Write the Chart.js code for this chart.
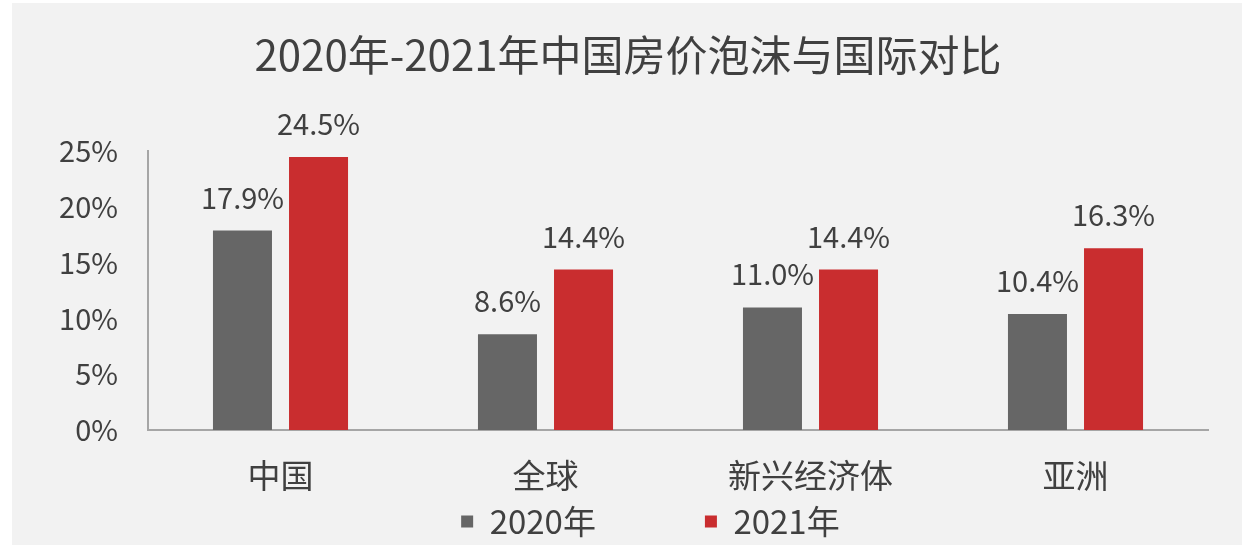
<!DOCTYPE html>
<html>
<head>
<meta charset="utf-8">
<script src="https://cdn.jsdelivr.net/npm/chart.js@4.4.1/dist/chart.umd.min.js"></script>
<style>
  html, body { margin: 0; padding: 0; background: #ffffff; }
  #wrap { position: absolute; left: 12px; top: 3px; width: 1230px; height: 542px; background: #f2f2f2; }
  #box { position: absolute; left: 0; top: 0; width: 1242px; height: 550px; }
</style>
</head>
<body>
<div id="wrap"></div>
<div id="box"><canvas id="grafico"></canvas></div>
<script>
// dados
const titulo = '2020年-2021年中国房价泡沫与国际对比';
const categorias = ['中国', '全球', '新兴经济体', '亚洲'];
const serie2020 = [17.9, 8.6, 11.0, 10.4];
const serie2021 = [24.5, 14.4, 14.4, 16.3];
const nomesSeries = ['2020年', '2021年'];
const ticksY = [0, 5, 10, 15, 20, 25];

const fonte = '"Noto Sans CJK SC", "Noto Sans", sans-serif';
const corTexto = '#404040';

// rotulos em cima das barras
const rotulos = {
    id: 'rotulos',
    afterDatasetsDraw(chart) {
        const ctx = chart.ctx;
        ctx.save();
        ctx.font = '29px ' + fonte;
        ctx.fillStyle = corTexto;
        ctx.textAlign = 'center';
        ctx.textBaseline = 'middle';
        chart.data.datasets.forEach((ds, i) => {
            chart.getDatasetMeta(i).data.forEach((bar, j) => {
                ctx.fillText(ds.data[j].toFixed(1) + '%', bar.x, bar.y - 33);
            });
        });
        ctx.restore();
    }
};

const ctx = document.getElementById('grafico').getContext('2d');
new Chart(ctx, {
    type: 'bar',
    data: {
        labels: categorias,
        datasets: [{
            label: nomesSeries[0],
            data: serie2020,
            backgroundColor: '#666666'
        }, {
            label: nomesSeries[1],
            data: serie2021,
            backgroundColor: '#c92d2f'
        }]
    },
    options: {
        responsive: true,
        maintainAspectRatio: false,
        animation: false,
        categoryPercentage: 0.574,
        barPercentage: 0.776,
        layout: { padding: { left: 48, right: 34, top: 0, bottom: 2 } },
        plugins: {
            title: {
                display: true,
                text: titulo,
                color: corTexto,
                font: { family: fonte, size: 42, weight: 'normal' },
                padding: { top: 30, bottom: 71 }
            },
            legend: {
                position: 'bottom',
                fullSize: false,
                labels: {
                    color: corTexto,
                    font: { family: fonte, size: 33 },
                    boxWidth: 12,
                    boxHeight: 12,
                    padding: 10,
                    generateLabels(chart) {
                        // espacos no fim so para afastar os itens como no original
                        return chart.data.datasets.map((ds, i) => ({
                            text: ds.label + (i === 0 ? '\u3000\u3000\u3000' : '\u3000   '),
                            fillStyle: ds.backgroundColor,
                            strokeStyle: ds.backgroundColor,
                            lineWidth: 0,
                            fontColor: corTexto,
                            datasetIndex: i
                        }));
                    }
                }
            },
            tooltip: { enabled: false }
        },
        scales: {
            x: {
                afterFit(scale) { scale.height = 65; },
                grid: { display: false, drawTicks: false },
                border: { display: true, color: '#a6a6a6', width: 2 },
                ticks: { color: corTexto, font: { family: fonte, size: 33 }, padding: 26 }
            },
            y: {
                min: 0,
                max: 25,
                afterFit(scale) { scale.width = 100; },
                afterBuildTicks(scale) { scale.ticks = ticksY.map(v => ({ value: v })); },
                grid: { display: false, drawTicks: false },
                border: { display: true, color: '#a6a6a6', width: 2 },
                ticks: {
                    color: corTexto,
                    font: { family: fonte, size: 29 },
                    padding: 30,
                    callback: v => v + '%'
                }
            }
        }
    },
    plugins: [rotulos]
});
</script>
</body>
</html>
